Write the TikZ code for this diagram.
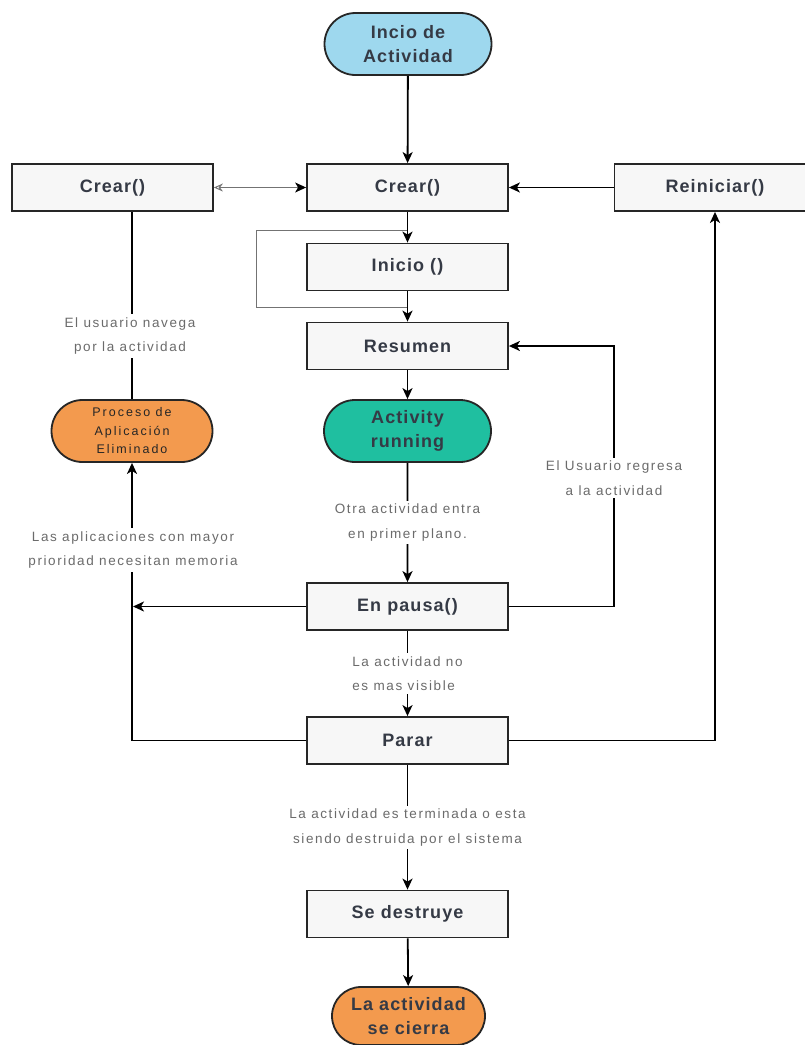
\documentclass[tikz,border=0pt]{standalone}
\usepackage{fontspec}
\setmainfont{Liberation Sans}
\newfontfamily\boxfont[LetterSpace=6]{Liberation Sans}
\newfontfamily\notefont[LetterSpace=12]{Liberation Sans}
\newfontfamily\smallfont[LetterSpace=16]{Liberation Sans}
\usetikzlibrary{arrows.meta,shapes.misc}
\definecolor{startblue}{HTML}{9ED8EE}
\definecolor{runteal}{HTML}{1FBFA0}
\definecolor{endorange}{HTML}{F39A4E}
\definecolor{inktext}{HTML}{353A45}
\tikzset{
  stepbox/.style={draw=black!85, line width=1.8pt, fill=black!3,
    minimum width=201pt, minimum height=47pt, inner sep=0pt,
    text=inktext, font=\boxfont\bfseries\fontsize{18}{22}\selectfont},
  term/.style={rounded rectangle, draw=black!85, line width=1.8pt,
    minimum width=167pt, minimum height=62pt, inner sep=0pt, align=center,
    text=inktext, font=\boxfont\bfseries\fontsize{18}{24}\selectfont},
  flow/.style={draw=black, line width=1.8pt, -{Stealth[length=11pt,width=10pt,inset=3pt]}},
  plain/.style={draw=black, line width=1.8pt},
  thinlink/.style={draw=black!55, line width=1pt},
  note/.style={fill=white, inner sep=3pt, align=center, text=black!58,
    font=\notefont\fontsize{13.5}{24.5}\selectfont}
}
\begin{document}
\begin{tikzpicture}[x=1pt,y=-1pt]
\fill[white] (0,0) rectangle (804,1045);
\useasboundingbox (0,0) rectangle (804,1045);

% states
\node[term, fill=startblue] (start) at (408,44) {Incio de\\Actividad};
\node[stepbox] (crearC) at (407.5,187.5) {Crear()};
\node[stepbox] (crearL) at (112.5,187.5) {Crear()};
\node[stepbox] (reini) at (715,187.5) {Reiniciar()};
\node[stepbox] (inicio) at (407.5,267) {Inicio ()};
\node[stepbox] (resumen) at (407.5,346) {Resumen};
\node[term, fill=runteal] (running) at (407.5,431) {Activity\\running};
\node[stepbox] (pausa) at (407.5,606.5) {En pausa()};
\node[stepbox] (parar) at (407.5,740.5) {Parar};
\node[stepbox] (destruye) at (407.5,914) {Se destruye};
\node[term, fill=endorange, minimum width=153pt, minimum height=58pt] (cierra) at (408.5,1016) {La actividad\\se cierra};
\node[term, fill=endorange, minimum width=161pt,
  font=\smallfont\fontsize{12.5}{18.5}\selectfont, text=black!85] (proceso) at (132,431)
  {Proceso de\\Aplicación\\Eliminado};

% helper points
\coordinate (lft) at (133,606.5);
\coordinate (ret) at (614,478);
\coordinate (loopA) at (407.5,230);
\coordinate (loopB) at (407.5,307);

% main sequence
\draw[flow] (start) -- (crearC);
\draw[thinlink] (loopA) -- (256,230) -- (256,307) -- (loopB);
\draw[flow] (crearC) -- (inicio);
\draw[flow] (inicio) -- (resumen);
\draw[flow] (resumen) -- (running);
\draw[flow] (running) -- node[note] {Otra actividad entra\\en primer plano.} (pausa);
\draw[flow] (pausa) -- node[note, align=left] {La actividad no\\es mas visible} (parar);
\draw[flow] (parar) -- node[note] {La actividad es terminada o esta\\siendo destruida por el sistema} (destruye);
\draw[flow] (destruye) -- (cierra);

% side paths
\draw[flow] (reini) -- (crearC);
\draw[flow] (parar.east) -| (reini.south);
\draw[flow] (pausa.east) -| (ret) |- (resumen.east);
\node[note] at (ret) {El Usuario regresa\\a la actividad};
\draw[flow] (pausa.west) -- (lft);
\draw[flow] (parar.west) -| (proceso.south);
\node[note] at (133,550) {Las aplicaciones con mayor\\prioridad necesitan memoria};
\draw[plain] (proceso.north) -- (proceso.north |- crearL.south);
\node[note] at (130,336) {El usuario navega\\por la actividad};
\draw[thinlink, {Stealth[length=9pt,width=8pt,open]}-{Stealth[length=11pt,width=10pt,inset=3pt,black]}] (crearL.east) -- (crearC.west);
\end{tikzpicture}
\end{document}
